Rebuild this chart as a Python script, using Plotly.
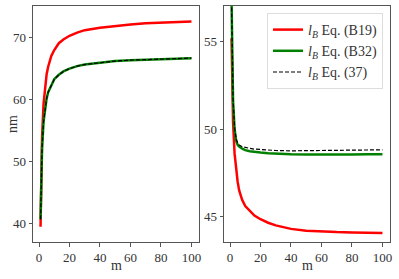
import plotly.graph_objects as go
from plotly.subplots import make_subplots

m = [1, 2, 3, 4, 5, 6, 8, 10, 13, 16, 20, 25, 30, 40, 50, 60, 70, 80, 90, 100]

# Left panel (nm)
left_b19 = [39.4, 53.9, 59.3, 62.1, 64.0, 65.2, 66.9, 67.9, 69.0, 69.6, 70.2, 70.7, 71.1,
            71.5, 71.8, 72.0, 72.2, 72.3, 72.4, 72.5]
left_b32 = [40.6, 52.1, 56.4, 58.6, 60.1, 61.1, 62.3, 63.2, 63.9, 64.45, 64.9, 65.3, 65.56,
            65.9, 66.12, 66.27, 66.38, 66.46, 66.53, 66.59]
left_37 = [40.6, 52.1, 56.4, 58.6, 60.1, 61.1, 62.3, 63.2, 63.9, 64.45, 64.9, 65.3, 65.56,
           65.9, 66.12, 66.27, 66.38, 66.46, 66.53, 66.6]

# Right panel
right_b19 = [55.2, 50.4, 48.6, 47.6, 47.0, 46.5, 45.95, 45.6, 45.3, 45.06, 44.85, 44.65, 44.5,
             44.3, 44.2, 44.15, 44.12, 44.1, 44.08, 44.07]
right_b32 = [57.3, 51.6, 50.0, 49.35, 49.1, 49.0, 48.88, 48.8, 48.74, 48.7, 48.66, 48.63, 48.6,
             48.57, 48.55, 48.54, 48.54, 48.55, 48.56, 48.57]
right_37 = [57.3, 51.7, 50.1, 49.45, 49.2, 49.1, 49.0, 48.95, 48.9, 48.86, 48.83, 48.8, 48.78,
            48.76, 48.76, 48.77, 48.78, 48.8, 48.81, 48.82]

names = ["<i>l</i><sub><i>B</i></sub> Eq. (B19)",
         "<i>l</i><sub><i>B</i></sub> Eq. (B32)",
         "<i>l</i><sub><i>B</i></sub> Eq. (37)"]

fig = make_subplots(rows=1, cols=2)

FONT = "Liberation Serif"
TXT = "#333"
W, H = 399, 279

fig.add_trace(go.Scatter(x=m, y=left_b19, mode="lines", line=dict(color="#ff0000", width=2.5),
                         showlegend=False), 1, 1)
fig.add_trace(go.Scatter(x=m, y=left_b32, mode="lines", line=dict(color="#008000", width=2.5),
                         showlegend=False), 1, 1)
fig.add_trace(go.Scatter(x=m, y=left_37, mode="lines", line=dict(color="black", width=1.2, dash="4px,2px"),
                         showlegend=False), 1, 1)

fig.add_trace(go.Scatter(x=m, y=right_b19, mode="lines", line=dict(color="#ff0000", width=2.5),
                         name=names[0]), 1, 2)
fig.add_trace(go.Scatter(x=m, y=right_b32, mode="lines", line=dict(color="#008000", width=2.5),
                         name=names[1]), 1, 2)
fig.add_trace(go.Scatter(x=m, y=right_37, mode="lines", line=dict(color="black", width=1.2, dash="4px,2px"),
                         name=names[2]), 1, 2)

axis_common = dict(showline=True, linecolor="#555", linewidth=1, mirror=True, ticks="outside",
                   ticklen=3.5, tickcolor="#555", showgrid=False, zeroline=False, automargin=False,
                   tickfont=dict(family=FONT, size=13, color=TXT))

fig.update_xaxes(**axis_common)
fig.update_yaxes(**axis_common)

fig.update_xaxes(range=[-3.95, 104.95], tickvals=[0, 20, 40, 60, 80, 100],
                 domain=[33/W, 199/W], row=1, col=1)
fig.update_xaxes(range=[-3.95, 104.95], tickvals=[0, 20, 40, 60, 80, 100],
                 domain=[224/W, 390/W], row=1, col=2)
fig.update_yaxes(range=[36.94, 75.0], tickvals=[40, 50, 60, 70],
                 domain=[1-242/H, 1-6/H], row=1, col=1)
fig.update_yaxes(range=[43.55, 57.04], tickvals=[45, 50, 55],
                 domain=[1-242/H, 1-6/H], row=1, col=2)

title_font = dict(family=FONT, size=14, color=TXT)
annotations = [
    dict(text="m", x=116/W, y=1-265/H, xref="paper", yref="paper", xanchor="center",
         yanchor="middle", showarrow=False, font=title_font),
    dict(text="m", x=307/W, y=1-265/H, xref="paper", yref="paper", xanchor="center",
         yanchor="middle", showarrow=False, font=title_font),
    dict(text="nm", x=12/W, y=1-124/H, xref="paper", yref="paper", xanchor="center",
         yanchor="middle", showarrow=False, textangle=-90, font=title_font),
]

fig.update_layout(
    width=W, height=H,
    margin=dict(l=0, r=0, t=0, b=0),
    paper_bgcolor="white", plot_bgcolor="white",
    font=dict(family=FONT, size=14, color=TXT),
    annotations=annotations,
    legend=dict(x=383/W, y=1-13/H, xanchor="right", yanchor="top",
                bgcolor="rgba(255,255,255,0.9)", bordercolor="#ddd", borderwidth=1,
                font=dict(family=FONT, size=14, color=TXT), tracegroupgap=0,
                itemwidth=30),
)

fig.write_html("out.html", config={"displayModeBar": False},
               post_script="document.body.style.margin='0';document.body.style.overflow='hidden';")
